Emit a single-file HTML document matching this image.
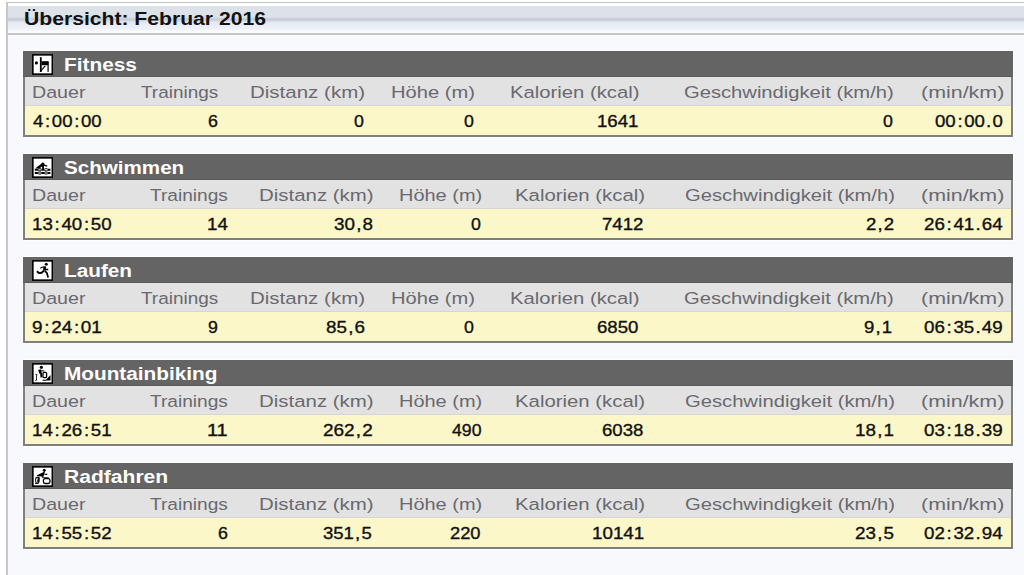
<!DOCTYPE html><html><head><meta charset="utf-8"><style>
*{margin:0;padding:0}
html,body{width:1024px;height:575px;overflow:hidden;background:#fff}
body{position:relative;font-family:'Liberation Sans',sans-serif}
.panel{position:absolute;left:6px;top:2px;width:1030px;height:600px;background:#f8f9fc;border-left:2px solid #c8c8c8;border-top:1px solid #c4c4c4}
.ph{position:absolute;left:8px;top:3px;width:1016px;height:30px;border-bottom:2px solid #c6c6c6;
background:linear-gradient(to bottom,#ffffff 0px,#ffffff 3px,#dde1e8 3.5px,#dde1e8 14px,#d3d7df 15px,#c6cbd5 16px,#c8cdd7 17px,#dbe0ea 18.5px,#e6eaf3 20px,#eef1f8 26px,#f8f9fc 28px,#fbfcfe 30px)}
.tbl{position:absolute;left:23px;width:986px;height:84px;border:2px solid #7f7f80;border-top:0;background:#fcf7c8;box-shadow:0 0 0 1px rgba(255,255,255,.7)}
.hd{position:absolute;left:-2px;top:0;width:990px;height:25px;background:#646464;border-bottom:1px solid #5a5a5a}
.lr{position:absolute;left:0;top:26px;width:986px;height:28px;background:#e2e2e2;border-bottom:1px solid #d6d6d6}
.ico{position:absolute;left:7.3px;top:3px;width:21.2px;height:21px}
.t{position:absolute;white-space:pre;line-height:20px;transform-origin:0 0}
.d{-webkit-text-stroke:0.35px #111}
i{font-style:normal;padding:0 1.5px}
b{font-weight:inherit;padding:0 1.05px}
</style></head><body>
<div class="panel"></div><div class="ph"></div>
<div class="tbl" style="top:51px"><div class="hd"></div><div class="lr"></div><div class="ico"><svg width="21.2" height="21" viewBox="0 0 21.2 21"><rect x="0.85" y="0.85" width="19.5" height="19.3" fill="#fff" stroke="#000" stroke-width="1.6"/><circle cx="4.4" cy="8.9" r="1.55" fill="#000"/><rect x="7.9" y="3.2" width="1.8" height="14.7" fill="#000"/><rect x="9.5" y="7.2" width="6.9" height="4.0" fill="#000"/><rect x="15.5" y="7.5" width="1.2" height="10.4" fill="#000"/><path d="M8 17.6 C9.5 17.2 10 15.5 11 14.3 C11.8 13.3 12.6 12.6 13.4 12" stroke="#000" stroke-width="1.1" fill="none"/></svg></div></div>
<div class="tbl" style="top:154px"><div class="hd"></div><div class="lr"></div><div class="ico"><svg width="21.2" height="21" viewBox="0 0 21.2 21"><rect x="0.85" y="0.85" width="19.5" height="19.3" fill="#fff" stroke="#000" stroke-width="1.6"/><circle cx="10.9" cy="7.0" r="1.5" fill="#000"/><path d="M3.4 11.2 L10.0 6.2 L11.9 7.4 L12.0 12.6 L10.4 12.8 L10.0 9.6 L7.0 11.8 Z" fill="#000"/><path d="M11.6 7.6 L13.4 8.6 L15.2 9.0" stroke="#000" stroke-width="1.3" fill="none"/><g stroke="#000" fill="none"><path d="M2.8 12.7 H5.9 M9.7 12.7 H12.2 M16.0 12.7 H18.4 M2.8 16.0 H5.9 M9.7 16.0 H12.2 M16.0 16.0 H18.4" stroke-width="2.0"/><ellipse cx="7.8" cy="12.7" rx="1.9" ry="1.2" stroke-width="0.8" fill="#bbb"/><ellipse cx="14.1" cy="12.7" rx="1.9" ry="1.2" stroke-width="0.8" fill="#ddd"/><ellipse cx="7.8" cy="16.0" rx="1.9" ry="1.2" stroke-width="0.8" fill="#bbb"/><ellipse cx="14.1" cy="16.0" rx="1.9" ry="1.2" stroke-width="0.8" fill="#bbb"/></g></svg></div></div>
<div class="tbl" style="top:257px"><div class="hd"></div><div class="lr"></div><div class="ico"><svg width="21.2" height="21" viewBox="0 0 21.2 21"><rect x="0.85" y="0.85" width="19.5" height="19.3" fill="#fff" stroke="#000" stroke-width="1.6"/><circle cx="14.3" cy="4.2" r="1.5" fill="#000"/><path d="M12.9 6.4 L12.3 10.6" stroke="#000" stroke-width="2.6" fill="none"/><path d="M12.4 6.9 L10.2 7.2 L8.3 8.3" stroke="#000" stroke-width="1.1" fill="none"/><path d="M12.6 9.4 L16.3 9.6" stroke="#000" stroke-width="1.5" fill="none"/><path d="M11.9 10.6 L9.6 12.8 L6.8 13.0 L5.0 11.3" stroke="#000" stroke-width="2.0" fill="none"/><path d="M12.8 11.0 L14.9 12.9 L16.2 17.6" stroke="#000" stroke-width="1.7" fill="none"/></svg></div></div>
<div class="tbl" style="top:360px"><div class="hd"></div><div class="lr"></div><div class="ico"><svg width="21.2" height="21" viewBox="0 0 21.2 21"><rect x="0.85" y="0.85" width="19.5" height="19.3" fill="#fff" stroke="#000" stroke-width="1.6"/><circle cx="9.4" cy="4.3" r="1.6" fill="#000"/><path d="M7.4 6.6 L8.6 10.4" stroke="#000" stroke-width="2.6" fill="none"/><path d="M8.8 7.8 L12.4 8.0" stroke="#000" stroke-width="1.1" fill="none"/><path d="M9.0 10.0 L9.4 14.4" stroke="#000" stroke-width="1.8" fill="none"/><path d="M3.4 11.4 L5.0 11.6 C4.2 13 4.4 16 4.6 17.2 L3.2 17.5" stroke="#000" stroke-width="0.9" fill="none"/><rect x="11.0" y="9.4" width="3.6" height="5.2" rx="1.2" stroke="#000" stroke-width="1.3" fill="none"/><path d="M18.5 12.0 L18.5 17.4 L13.4 17.4 Z" fill="#000"/><path d="M10.6 17.3 L14 17.3" stroke="#000" stroke-width="1.0" fill="none"/></svg></div></div>
<div class="tbl" style="top:463px"><div class="hd"></div><div class="lr"></div><div class="ico"><svg width="21.2" height="21" viewBox="0 0 21.2 21"><rect x="0.85" y="0.85" width="19.5" height="19.3" fill="#fff" stroke="#000" stroke-width="1.6"/><circle cx="12.3" cy="4.2" r="1.5" fill="#000"/><path d="M4.9 9.3 L10.8 6.6 L13.1 4.6 L12.6 7.1 L11.3 11.1 L8.1 10.2 L5.4 10.6 Z" fill="#000"/><path d="M12.4 8.2 L15.3 8.4" stroke="#000" stroke-width="1.1" fill="none"/><path d="M3.4 11.4 L5.2 11.4 M9.9 11.6 L16.7 11.6" stroke="#000" stroke-width="0.8" fill="none"/><rect x="3.7" y="11.7" width="3.4" height="5.3" rx="1.2" stroke="#000" stroke-width="1.0" fill="none"/><path d="M6.9 11.0 L5.9 16.2" stroke="#000" stroke-width="1.7" fill="none"/><rect x="11.4" y="12.6" width="6.6" height="4.9" rx="1.8" stroke="#000" stroke-width="1.3" fill="none"/><path d="M3.0 17.4 L6.6 17.4" stroke="#000" stroke-width="0.9" fill="none"/></svg></div></div>
<div class="t" style="left:23.59px;top:8.50px;font-size:17.5px;font-weight:700;color:#111;transform:scaleX(1.2075)">Übersicht: Februar 2016</div>
<div class="t" style="left:64.31px;top:54.80px;font-size:17.5px;font-weight:700;color:#fff;transform:scaleX(1.1900)">Fitness</div>
<div class="t" style="left:32.33px;top:83.00px;font-size:16.75px;color:#69696f;transform:scaleX(1.1733)">Dauer</div>
<div class="t" style="left:140.60px;top:83.00px;font-size:16.75px;color:#69696f;transform:scaleX(1.1309)">Trainings</div>
<div class="t" style="left:250.18px;top:83.00px;font-size:16.75px;color:#69696f;transform:scaleX(1.2239)">Distanz (km)</div>
<div class="t" style="left:391.10px;top:83.00px;font-size:16.75px;color:#69696f;transform:scaleX(1.2015)">Höhe (m)</div>
<div class="t" style="left:510.39px;top:83.00px;font-size:16.75px;color:#69696f;transform:scaleX(1.2086)">Kalorien (kcal)</div>
<div class="t" style="left:683.80px;top:83.00px;font-size:16.75px;color:#69696f;transform:scaleX(1.2047)">Geschwindigkeit (km/h)</div>
<div class="t" style="left:920.72px;top:83.00px;font-size:16.75px;color:#69696f;transform:scaleX(1.2794)">(min/km)</div>
<div class="t d" style="left:33.30px;top:112.30px;font-size:16.75px;color:#111;transform:scaleX(1.1098)">4<i>:</i>00<i>:</i>00</div>
<div class="t d" style="left:207.94px;top:112.30px;font-size:16.75px;color:#111;transform:scaleX(1.0625)">6</div>
<div class="t d" style="left:354.44px;top:112.30px;font-size:16.75px;color:#111;transform:scaleX(1.0625)">0</div>
<div class="t d" style="left:464.44px;top:112.30px;font-size:16.75px;color:#111;transform:scaleX(1.0625)">0</div>
<div class="t d" style="left:597.39px;top:112.30px;font-size:16.75px;color:#111;transform:scaleX(1.1111)">1641</div>
<div class="t d" style="left:882.64px;top:112.30px;font-size:16.75px;color:#111;transform:scaleX(1.0625)">0</div>
<div class="t d" style="left:934.79px;top:112.30px;font-size:16.75px;color:#111;transform:scaleX(1.1117)">00<i>:</i>00<b>.</b>0</div>
<div class="t" style="left:64.32px;top:157.80px;font-size:17.5px;font-weight:700;color:#fff;transform:scaleX(1.1770)">Schwimmen</div>
<div class="t" style="left:32.33px;top:186.00px;font-size:16.75px;color:#69696f;transform:scaleX(1.1733)">Dauer</div>
<div class="t" style="left:150.00px;top:186.00px;font-size:16.75px;color:#69696f;transform:scaleX(1.1412)">Trainings</div>
<div class="t" style="left:258.58px;top:186.00px;font-size:16.75px;color:#69696f;transform:scaleX(1.2196)">Distanz (km)</div>
<div class="t" style="left:398.81px;top:186.00px;font-size:16.75px;color:#69696f;transform:scaleX(1.1912)">Höhe (m)</div>
<div class="t" style="left:514.78px;top:186.00px;font-size:16.75px;color:#69696f;transform:scaleX(1.2152)">Kalorien (kcal)</div>
<div class="t" style="left:684.79px;top:186.00px;font-size:16.75px;color:#69696f;transform:scaleX(1.2058)">Geschwindigkeit (km/h)</div>
<div class="t" style="left:920.72px;top:186.00px;font-size:16.75px;color:#69696f;transform:scaleX(1.2794)">(min/km)</div>
<div class="t d" style="left:32.18px;top:215.30px;font-size:16.75px;color:#111;transform:scaleX(1.1171)">13<i>:</i>40<i>:</i>50</div>
<div class="t d" style="left:207.48px;top:215.30px;font-size:16.75px;color:#111;transform:scaleX(1.1176)">14</div>
<div class="t d" style="left:333.78px;top:215.30px;font-size:16.75px;color:#111;transform:scaleX(1.1242)">30<b>,</b>8</div>
<div class="t d" style="left:471.44px;top:215.30px;font-size:16.75px;color:#111;transform:scaleX(1.0625)">0</div>
<div class="t d" style="left:602.49px;top:215.30px;font-size:16.75px;color:#111;transform:scaleX(1.1111)">7412</div>
<div class="t d" style="left:865.69px;top:215.30px;font-size:16.75px;color:#111;transform:scaleX(1.1083)">2<b>,</b>2</div>
<div class="t d" style="left:924.28px;top:215.30px;font-size:16.75px;color:#111;transform:scaleX(1.1188)">26<i>:</i>41<b>.</b>64</div>
<div class="t" style="left:64.31px;top:260.80px;font-size:17.5px;font-weight:700;color:#fff;transform:scaleX(1.1857)">Laufen</div>
<div class="t" style="left:32.33px;top:289.00px;font-size:16.75px;color:#69696f;transform:scaleX(1.1733)">Dauer</div>
<div class="t" style="left:140.60px;top:289.00px;font-size:16.75px;color:#69696f;transform:scaleX(1.1309)">Trainings</div>
<div class="t" style="left:250.18px;top:289.00px;font-size:16.75px;color:#69696f;transform:scaleX(1.2239)">Distanz (km)</div>
<div class="t" style="left:391.10px;top:289.00px;font-size:16.75px;color:#69696f;transform:scaleX(1.2015)">Höhe (m)</div>
<div class="t" style="left:510.39px;top:289.00px;font-size:16.75px;color:#69696f;transform:scaleX(1.2086)">Kalorien (kcal)</div>
<div class="t" style="left:683.80px;top:289.00px;font-size:16.75px;color:#69696f;transform:scaleX(1.2047)">Geschwindigkeit (km/h)</div>
<div class="t" style="left:920.72px;top:289.00px;font-size:16.75px;color:#69696f;transform:scaleX(1.2794)">(min/km)</div>
<div class="t d" style="left:32.17px;top:318.30px;font-size:16.75px;color:#111;transform:scaleX(1.1283)">9<i>:</i>24<i>:</i>01</div>
<div class="t d" style="left:207.94px;top:318.30px;font-size:16.75px;color:#111;transform:scaleX(1.0625)">9</div>
<div class="t d" style="left:325.78px;top:318.30px;font-size:16.75px;color:#111;transform:scaleX(1.1242)">85<b>,</b>6</div>
<div class="t d" style="left:464.44px;top:318.30px;font-size:16.75px;color:#111;transform:scaleX(1.0625)">0</div>
<div class="t d" style="left:597.39px;top:318.30px;font-size:16.75px;color:#111;transform:scaleX(1.1111)">6850</div>
<div class="t d" style="left:864.49px;top:318.30px;font-size:16.75px;color:#111;transform:scaleX(1.1083)">9<b>,</b>1</div>
<div class="t d" style="left:924.28px;top:318.30px;font-size:16.75px;color:#111;transform:scaleX(1.1188)">06<i>:</i>35<b>.</b>49</div>
<div class="t" style="left:64.31px;top:363.80px;font-size:17.5px;font-weight:700;color:#fff;transform:scaleX(1.1866)">Mountainbiking</div>
<div class="t" style="left:32.33px;top:392.00px;font-size:16.75px;color:#69696f;transform:scaleX(1.1733)">Dauer</div>
<div class="t" style="left:150.00px;top:392.00px;font-size:16.75px;color:#69696f;transform:scaleX(1.1412)">Trainings</div>
<div class="t" style="left:258.58px;top:392.00px;font-size:16.75px;color:#69696f;transform:scaleX(1.2196)">Distanz (km)</div>
<div class="t" style="left:398.81px;top:392.00px;font-size:16.75px;color:#69696f;transform:scaleX(1.1912)">Höhe (m)</div>
<div class="t" style="left:514.78px;top:392.00px;font-size:16.75px;color:#69696f;transform:scaleX(1.2152)">Kalorien (kcal)</div>
<div class="t" style="left:684.79px;top:392.00px;font-size:16.75px;color:#69696f;transform:scaleX(1.2058)">Geschwindigkeit (km/h)</div>
<div class="t" style="left:920.72px;top:392.00px;font-size:16.75px;color:#69696f;transform:scaleX(1.2794)">(min/km)</div>
<div class="t d" style="left:32.18px;top:421.30px;font-size:16.75px;color:#111;transform:scaleX(1.1171)">14<i>:</i>26<i>:</i>51</div>
<div class="t d" style="left:207.41px;top:421.30px;font-size:16.75px;color:#111;transform:scaleX(1.1875)">11</div>
<div class="t d" style="left:323.27px;top:421.30px;font-size:16.75px;color:#111;transform:scaleX(1.1333)">262<b>,</b>2</div>
<div class="t d" style="left:451.50px;top:421.30px;font-size:16.75px;color:#111;transform:scaleX(1.0536)">490</div>
<div class="t d" style="left:602.49px;top:421.30px;font-size:16.75px;color:#111;transform:scaleX(1.1111)">6038</div>
<div class="t d" style="left:855.18px;top:421.30px;font-size:16.75px;color:#111;transform:scaleX(1.1242)">18<b>,</b>1</div>
<div class="t d" style="left:924.28px;top:421.30px;font-size:16.75px;color:#111;transform:scaleX(1.1188)">03<i>:</i>18<b>.</b>39</div>
<div class="t" style="left:64.30px;top:466.80px;font-size:17.5px;font-weight:700;color:#fff;transform:scaleX(1.2035)">Radfahren</div>
<div class="t" style="left:32.33px;top:495.00px;font-size:16.75px;color:#69696f;transform:scaleX(1.1733)">Dauer</div>
<div class="t" style="left:150.00px;top:495.00px;font-size:16.75px;color:#69696f;transform:scaleX(1.1412)">Trainings</div>
<div class="t" style="left:258.58px;top:495.00px;font-size:16.75px;color:#69696f;transform:scaleX(1.2196)">Distanz (km)</div>
<div class="t" style="left:398.81px;top:495.00px;font-size:16.75px;color:#69696f;transform:scaleX(1.1912)">Höhe (m)</div>
<div class="t" style="left:514.78px;top:495.00px;font-size:16.75px;color:#69696f;transform:scaleX(1.2152)">Kalorien (kcal)</div>
<div class="t" style="left:684.79px;top:495.00px;font-size:16.75px;color:#69696f;transform:scaleX(1.2058)">Geschwindigkeit (km/h)</div>
<div class="t" style="left:920.72px;top:495.00px;font-size:16.75px;color:#69696f;transform:scaleX(1.2794)">(min/km)</div>
<div class="t d" style="left:32.18px;top:524.30px;font-size:16.75px;color:#111;transform:scaleX(1.1171)">14<i>:</i>55<i>:</i>52</div>
<div class="t d" style="left:218.04px;top:524.30px;font-size:16.75px;color:#111;transform:scaleX(1.0625)">6</div>
<div class="t d" style="left:323.29px;top:524.30px;font-size:16.75px;color:#111;transform:scaleX(1.1070)">351<b>,</b>5</div>
<div class="t d" style="left:450.41px;top:524.30px;font-size:16.75px;color:#111;transform:scaleX(1.0926)">220</div>
<div class="t d" style="left:591.98px;top:524.30px;font-size:16.75px;color:#111;transform:scaleX(1.1222)">10141</div>
<div class="t d" style="left:855.18px;top:524.30px;font-size:16.75px;color:#111;transform:scaleX(1.1242)">23<b>,</b>5</div>
<div class="t d" style="left:924.28px;top:524.30px;font-size:16.75px;color:#111;transform:scaleX(1.1188)">02<i>:</i>32<b>.</b>94</div>
</body></html>
